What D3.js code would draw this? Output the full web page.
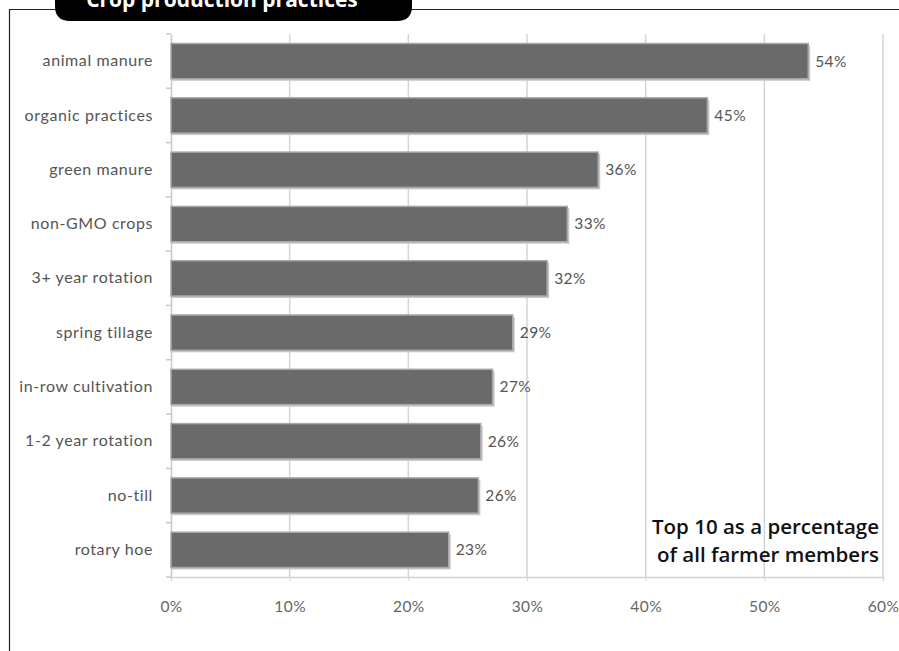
<!DOCTYPE html>
<html>
<head>
<meta charset="utf-8">
<script src="https://cdn.jsdelivr.net/npm/d3@7/dist/d3.min.js"></script>
<style>
  html, body { margin: 0; padding: 0; background: #fff; }
  svg { display: block; }
</style>
</head>
<body>
<svg id="chart" width="899" height="651"></svg>
<script>
// Crop production practices: share of farmer members using each practice
const categories = [
  "animal manure", "organic practices", "green manure", "non-GMO crops",
  "3+ year rotation", "spring tillage", "in-row cultivation",
  "1-2 year rotation", "no-till", "rotary hoe"
];
const values = [53.7, 45.2, 36.0, 33.4, 31.7, 28.8, 27.1, 26.1, 25.9, 23.4];
const xTicks = [0, 10, 20, 30, 40, 50, 60];
const titleText = "Crop production practices";
const noteLines = ["Top 10 as a percentage", "of all farmer members"];

const svg = d3.select("#chart");
const W = 899, H = 651;
const m = { left: 171, right: 16, top: 34, bottom: 74 };
const labelFont = "Lato, sans-serif";

// Frame around the chart
svg.append("path")
  .attr("d", `M9.5,${H} L9.5,9.5 L${W},9.5`)
  .attr("fill", "none").attr("stroke", "#222").attr("stroke-width", 1.2);

// Title tab
svg.append("path")
  .attr("d", "M55,-10 L55,6 Q55,21 70,21 L397,21 Q412,21 412,6 L412,-10 Z")
  .attr("fill", "#000");
svg.append("text")
  .attr("x", 222).attr("y", 7)
  .attr("text-anchor", "middle")
  .attr("font-family", "'Open Sans', sans-serif")
  .attr("font-weight", 700).attr("font-size", 21)
  .attr("fill", "#fff")
  .text(titleText);

const x = d3.scaleLinear().domain([0, 60]).range([m.left, W - m.right]);
const y = d3.scaleBand().domain(categories).range([m.top, H - m.bottom]).paddingInner(0.35).paddingOuter(0.175);

// Vertical gridlines
svg.append("g").selectAll("line").data(xTicks.slice(1)).join("line")
  .attr("x1", d => x(d)).attr("x2", d => x(d))
  .attr("y1", m.top).attr("y2", H - m.bottom)
  .attr("stroke", "#d4d4d4").attr("stroke-width", 1.5);

// X axis
const xAxis = svg.append("g")
  .attr("transform", `translate(0,${H - m.bottom})`)
  .call(d3.axisBottom(x).tickValues(xTicks).tickFormat(d => d + "%").tickSize(4).tickPadding(20));
xAxis.select(".domain").attr("stroke", "#d4d4d4").attr("stroke-width", 1.5);
xAxis.selectAll(".tick line").attr("stroke", "#d4d4d4");
xAxis.selectAll("text")
  .attr("font-family", labelFont).attr("font-size", 15.5).attr("letter-spacing", 0.4).attr("fill", "#666");

// Y axis
const yAxis = svg.append("g")
  .attr("transform", `translate(${m.left},0)`)
  .call(d3.axisLeft(y).tickSize(0).tickPadding(18));
yAxis.select(".domain").attr("stroke", "#c8c8c8").attr("stroke-width", 1.5);
yAxis.selectAll("text")
  .attr("font-family", labelFont).attr("font-size", 16).attr("letter-spacing", 0.6).attr("fill", "#555");

// Small tick marks at band boundaries
const step = y.step();
const bounds = d3.range(categories.length + 1).map(i => m.top + i * step);
svg.append("g").selectAll("line").data(bounds).join("line")
  .attr("x1", m.left - 5).attr("x2", m.left)
  .attr("y1", d => d).attr("y2", d => d)
  .attr("stroke", "#c8c8c8").attr("stroke-width", 1.5);

// Bars with soft shadow and light outline
const rows = categories.map((c, i) => ({ c, v: values[i] }));
svg.append("g").selectAll("rect.shadow").data(rows).join("rect")
  .attr("class", "shadow")
  .attr("x", x(0) + 1).attr("y", d => y(d.c) + 2)
  .attr("width", d => x(d.v) - x(0) + 1).attr("height", y.bandwidth())
  .attr("fill", "#c9c9c9");
svg.append("g").selectAll("rect.bar").data(rows).join("rect")
  .attr("class", "bar")
  .attr("x", x(0)).attr("y", d => y(d.c))
  .attr("width", d => x(d.v) - x(0)).attr("height", y.bandwidth())
  .attr("fill", "#6a6a6a").attr("stroke", "#a8a8a8").attr("stroke-width", 1.5);

// Value labels
svg.append("g").selectAll("text").data(rows).join("text")
  .attr("x", d => x(d.v) + 7).attr("y", d => y(d.c) + y.bandwidth() / 2)
  .attr("dy", "0.35em")
  .attr("font-family", labelFont).attr("font-size", 15.5).attr("letter-spacing", 0.4).attr("fill", "#555")
  .text(d => Math.round(d.v) + "%");

// Note
svg.append("g").selectAll("text").data(noteLines).join("text")
  .attr("x", 879).attr("y", (d, i) => 534 + i * 28)
  .attr("text-anchor", "end")
  .attr("font-family", "'Open Sans', sans-serif").attr("font-size", 20.5).attr("font-weight", 600)
  .attr("fill", "#111")
  .text(d => d);
</script>
</body>
</html>
